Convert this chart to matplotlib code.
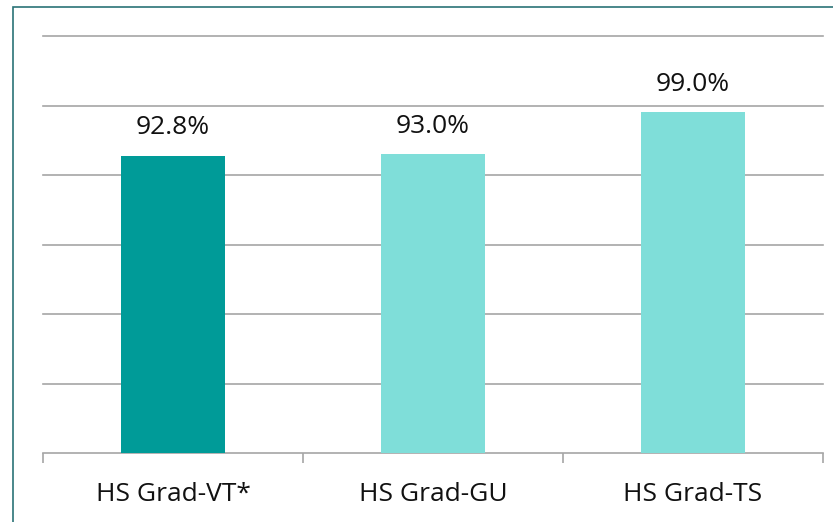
import matplotlib.pyplot as plt
import matplotlib.patches as patches
import numpy as np

# Data
categories = ["HS Grad-VT*", "HS Grad-GU", "HS Grad-TS"]
values = [92.8, 93.0, 99.0]
colors = ["#009b98", "#7fded9", "#7fded9"]

plt.rcParams['font.family'] = ['Open Sans', 'DejaVu Sans']

fig = plt.figure(figsize=(8.33, 5.22), dpi=100)
ax = fig.add_axes([43 / 833, 69 / 522, 780 / 833, 417 / 522])

x = np.arange(len(categories))
bars = ax.bar(x, values, width=0.4, color=colors, zorder=3)

ax.set_xlim(-0.5, len(categories) - 0.5)
ax.set_ylim(50, 110)
ax.set_yticks(np.arange(60, 111, 10))
ax.set_yticklabels([])
ax.tick_params(axis='y', length=0)
ax.yaxis.grid(True, color='#a6a6a6', linewidth=1.2, zorder=0)
for gl in ax.get_ygridlines():
    gl.set_clip_on(False)

# category labels centred, tick marks at boundaries
ax.set_xticks(x)
ax.set_xticklabels(categories, fontsize=19, color='#111111')
ax.tick_params(axis='x', which='major', length=0, pad=21)
ax.set_xticks(np.arange(-0.5, len(categories)), minor=True)
ax.tick_params(axis='x', which='minor', length=7, width=1.2, color='#a6a6a6')

for s in ['left', 'right', 'top']:
    ax.spines[s].set_visible(False)
ax.spines['bottom'].set_color('#a6a6a6')
ax.spines['bottom'].set_linewidth(1.2)

# value labels
for b, v in zip(bars, values):
    ax.annotate(f"{v:.1f}%", (b.get_x() + b.get_width() / 2, v),
                xytext=(0, 11), textcoords='offset points',
                ha='center', va='bottom', fontsize=19, color='#111111')

# outer frame (runs off the right and bottom edges)
frame = patches.Rectangle((13 / 833, -0.2), 1.2, 0.2 + 1 - 6.5 / 522,
                          transform=fig.transFigure, fill=False,
                          edgecolor='#2b7377', linewidth=1.2, clip_on=False)
fig.patches.append(frame)

plt.savefig('out.png', dpi=100)
